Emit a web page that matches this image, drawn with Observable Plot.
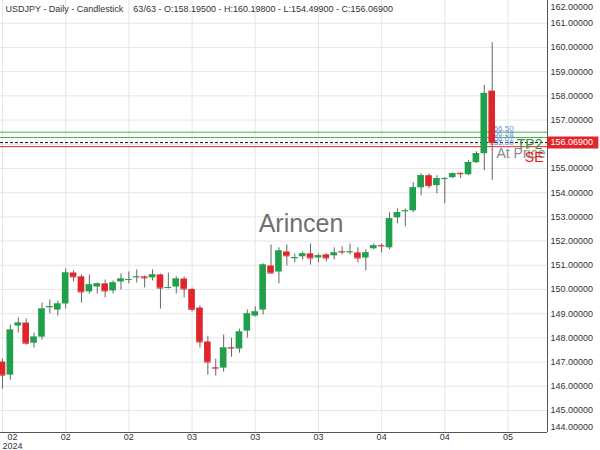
<!DOCTYPE html>
<html><head><meta charset="utf-8">
<script src="https://cdn.jsdelivr.net/npm/d3@7"></script>
<script src="https://cdn.jsdelivr.net/npm/@observablehq/plot@0.6"></script>
<style>body{margin:0;background:#fff;} svg{display:block;}</style>
</head><body><div id="chart"></div>
<script>
// Daily USDJPY candles, 1 Feb 2024 .. 29 Apr 2024 (63 trading days)
const opens  = [147.00,146.46,148.49,148.61,147.78,148.03,149.25,149.15,149.40,150.68,
                150.52,149.90,150.10,150.23,149.94,150.31,150.39,150.50,150.52,150.48,
                150.60,150.06,150.10,150.43,150.00,149.23,147.83,146.77,146.75,147.60,
                147.54,148.28,148.90,149.15,150.97,150.72,151.55,151.27,151.35,151.47,
                151.30,151.43,151.39,151.57,151.53,151.51,151.30,151.68,151.82,151.72,
                152.96,153.23,153.25,154.20,154.70,154.29,154.56,154.62,154.80,154.74,
                155.24,155.61,158.195];
const highs  = [147.12,148.53,148.82,148.78,148.20,149.44,149.56,149.52,150.85,150.77,
                150.60,150.60,150.27,150.39,150.35,150.64,150.72,150.81,150.56,150.81,
                150.64,150.68,150.52,150.52,150.06,149.32,148.07,147.12,148.12,147.99,
                148.36,149.15,149.28,151.06,151.84,151.72,151.84,151.47,151.55,151.88,
                151.47,151.47,151.72,151.76,151.88,151.72,151.64,151.88,151.88,153.17,
                153.33,153.33,154.41,154.78,154.78,154.70,154.62,154.82,154.82,155.32,
                155.69,158.43,160.198];
const lows   = [145.88,146.25,148.20,147.70,147.58,147.91,148.99,148.90,149.19,150.31,
                149.44,149.81,149.81,149.65,149.81,149.98,150.23,150.27,150.06,150.35,
                149.19,150.02,149.81,149.65,149.07,147.58,146.46,146.42,146.58,147.20,
                147.37,147.99,148.86,148.94,150.64,150.23,150.97,151.10,151.22,151.01,
                151.10,151.14,151.22,151.43,151.43,151.10,150.77,151.64,151.51,151.64,
                152.71,152.59,153.17,153.87,154.16,153.95,153.54,154.58,154.58,154.70,
                155.20,154.91,154.499];
const closes = [146.46,148.32,148.61,147.78,148.03,149.19,149.29,149.40,150.68,150.52,
                149.90,150.19,150.23,149.94,150.27,150.43,150.41,150.52,150.48,150.60,
                150.06,150.08,150.43,150.02,149.18,147.83,147.00,146.75,147.58,147.58,
                148.24,148.99,149.07,151.01,150.68,151.59,151.39,151.32,151.47,151.30,
                151.39,151.30,151.51,151.55,151.55,151.30,151.51,151.80,151.80,152.92,
                153.17,153.25,154.20,154.70,154.29,154.58,154.58,154.78,154.78,155.24,
                155.61,158.10,156.069];

// x tick positions (candle index) and their labels
const xTickIndex  = [0, 8, 16, 24, 32, 40, 48, 56, 64];
const xTickLabels = ["02\n2024", "02", "02", "03", "03", "03", "04", "04", "05"];
// y tick values
const yTicks = [144,145,146,147,148,149,150,151,152,153,154,155,156,157,158,159,160,161,162];

// trade levels
const tpLevels = [156.50, 156.28];
const priceLevel = 156.069;
const slLevel = 155.90;
const levelLabelValues = [156.50, 156.28, 156.069, 155.90];

const title = "USDJPY - Daily - Candlestick\u00a0\u00a0\u00a0 63/63 - O:158.19500 - H:160.19800 - L:154.49900 - C:156.06900";

const GREEN = "#21a04c", RED = "#e0262d";
const xDomain = [-0.25, 69];
const yDomain = [144.09, 161.94];

const candles = opens.map((o, i) => ({i, open: o, high: highs[i], low: lows[i], close: closes[i]}));
const last = candles.length - 1;
const inner = yTicks.filter(v => v > yDomain[0] && v < yDomain[1]);
const innerLabels = inner.filter(v => Math.abs(v - priceLevel) > 0.45);

const chart = Plot.plot({
  width: 600, height: 450,
  marginLeft: 0, marginRight: 53, marginTop: 0, marginBottom: 18,
  x: {domain: xDomain, axis: null},
  y: {domain: yDomain, axis: null},
  style: {fontFamily: "'Liberation Sans', Arial, sans-serif", background: "#fff", overflow: "visible"},
  marks: [
    Plot.ruleY(inner, {stroke: "#e6e6e6"}),
    Plot.ruleX(xTickIndex, {stroke: "#e6e6e6"}),
    Plot.text(["Arincen"], {frameAnchor: "middle", dx: 27, dy: 7, fontSize: 25, fill: "#707070"}),
    // trade level lines
    Plot.ruleY(tpLevels, {stroke: "#4cae4f", strokeWidth: 1}),
    Plot.ruleY([priceLevel], {stroke: "#111", strokeDasharray: "3,2", strokeWidth: 1}),
    Plot.ruleY([slLevel], {stroke: "#d62a2a", strokeWidth: 1}),
    Plot.text(levelLabelValues, {x: () => last, y: d => d, text: d => d.toFixed(2), dx: -3, dy: -4,
      textAnchor: "start", fontSize: 8, fill: "#6a8ee8"}),
    // candles
    Plot.ruleX(candles, {x: "i", y1: "low", y2: "high", stroke: "#666", strokeWidth: 1}),
    Plot.rect(candles, {x1: d => d.i - 0.42, x2: d => d.i + 0.42, y1: "open", y2: "close",
      fill: d => d.close >= d.open ? GREEN : RED}),
    Plot.ruleY(candles, {y: "close", x1: d => d.i - 0.42, x2: d => d.i + 0.42,
      stroke: d => d.close >= d.open ? GREEN : RED}),
    // level tags
    Plot.text(["TP2"], {y: () => tpLevels[1], frameAnchor: "right", dx: -5, dy: 7, textAnchor: "end",
      fontSize: 14, fill: "#2e9a2e"}),
    Plot.text(["At Price"], {y: () => priceLevel, frameAnchor: "right", dx: -2, dy: 11, textAnchor: "end",
      fontSize: 14, fill: "#8a8a8a"}),
    Plot.text(["SE"], {y: () => slLevel, frameAnchor: "right", dx: -4, dy: 11, textAnchor: "end",
      fontSize: 14, fill: "#e02020"}),
    // axis lines
    Plot.ruleX([xDomain[1]], {stroke: "#555"}),
    Plot.ruleY([yDomain[0]], {stroke: "#555"}),
    // right axis labels
    Plot.text(innerLabels, {y: d => d, frameAnchor: "right", dx: 3, textAnchor: "start",
      text: d => d.toFixed(5), fontSize: 9, fill: "#333"}),
    Plot.text([yTicks[yTicks.length - 1]], {y: d => d, frameAnchor: "right", dx: 3, dy: 8.4, textAnchor: "start",
      text: d => d.toFixed(5), fontSize: 9, fill: "#333"}),
    Plot.text([yTicks[0]], {y: d => d, frameAnchor: "right", dx: 3, dy: -8, textAnchor: "start",
      text: d => d.toFixed(5), fontSize: 9, fill: "#333"}),
    // current price tag
    Plot.ruleY([priceLevel], {x1: xDomain[1], x2: xDomain[1] + 6.5, stroke: RED, strokeWidth: 12}),
    Plot.text([priceLevel], {y: d => d, frameAnchor: "right", dx: 3, textAnchor: "start",
      text: d => d.toFixed(5), fontSize: 9, fill: "#fff"}),
    // bottom labels
    Plot.text(xTickIndex.slice(1), {x: d => d, frameAnchor: "bottom", dy: 1, lineAnchor: "top",
      text: (d, i) => xTickLabels[i + 1], fontSize: 9, fill: "#333"}),
    Plot.text([xTickIndex[0]], {x: d => d, frameAnchor: "bottom", dy: 1, dx: 10, lineAnchor: "top",
      text: () => xTickLabels[0], fontSize: 9, fill: "#333"}),
    // title
    Plot.text([title], {frameAnchor: "top-left", dx: 5, dy: 5, lineAnchor: "top", textAnchor: "start",
      fontSize: 9, fill: "#333"})
  ]
});
document.getElementById("chart").appendChild(chart);
</script>
</body></html>
